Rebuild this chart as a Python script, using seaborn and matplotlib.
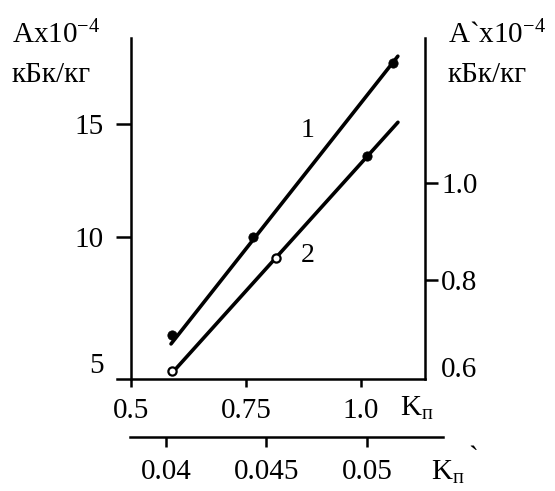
import numpy as np
import pandas as pd
import seaborn as sns
import matplotlib.pyplot as plt
from matplotlib import transforms

# curve 1: A vs Kп (left / lower axes)
kp1 = [0.59, 0.765, 1.07]
a1 = [5.66, 10.0, 17.7]
kp1_line = [0.587, 1.08]
a1_line = [5.27, 18.0]

# curve 2: A` vs Kп` (right / second lower axes)
kp2 = [0.0403, 0.04547, 0.05]
a2 = [0.612, 0.845, 1.056]
kp2_filled = [False, False, True]
kp2_line = [0.04025, 0.05154]
a2_line = [0.606, 1.126]

x1_ticks = [0.5, 0.75, 1.0]
x1_labels = ["0.5", "0.75", "1.0"]
y1_ticks = [5, 10, 15]
x2_ticks = [0.04, 0.045, 0.05]
x2_labels = ["0.04", "0.045", "0.05"]
y2_ticks = [0.6, 0.8, 1.0]
y2_labels = ["0.6", "0.8", "1.0"]

sns.set_style("ticks", {'axes.edgecolor': 'black', 'text.color': 'black',
                        'xtick.color': 'black', 'ytick.color': 'black'})
plt.rcParams['font.family'] = ['Liberation Serif', 'DejaVu Serif']
plt.rcParams['mathtext.fontset'] = 'custom'
plt.rcParams['mathtext.rm'] = 'Liberation Serif'
plt.rcParams['mathtext.it'] = 'Liberation Serif'

W, H = 555, 491
fig = plt.figure(figsize=(W / 100, H / 100), dpi=100)
rect = [131 / W, 1 - 379 / H, (425 - 131) / W, (379 - 38) / H]
ax = fig.add_axes(rect)
ax2 = fig.add_axes(rect)
ax2.patch.set_visible(False)

fs = 21
lw_ax = 1.8

# curve 1
sns.lineplot(x=kp1_line, y=a1_line, ax=ax, color='black', lw=2.6)
sns.scatterplot(x=kp1, y=a1, ax=ax, color='black', s=45, edgecolor='black', zorder=5)
ax.set_xlim(0.5, 1.139)
ax.set_ylim(3.717, 18.805)

# curve 2
df2 = pd.DataFrame({'kp': kp2, 'a': a2, 'filled': kp2_filled})
sns.lineplot(x=kp2_line, y=a2_line, ax=ax2, color='black', lw=2.6)
sns.scatterplot(data=df2[df2.filled], x='kp', y='a', ax=ax2, color='black',
                s=45, edgecolor='black', zorder=5)
sns.scatterplot(data=df2[~df2.filled], x='kp', y='a', ax=ax2, color='white',
                s=35, edgecolor='black', linewidth=1.6, zorder=5)
ax2.set_xlim(0.038259, 0.052886)
ax2.set_ylim(0.596, 1.30)

for a in (ax, ax2):
    a.set_xlabel('')
    a.set_ylabel('')
    for s in a.spines.values():
        s.set_linewidth(lw_ax)
        s.set_color('black')

ax.spines['top'].set_visible(False)
ax.spines['right'].set_visible(False)
ax.spines['bottom'].set_bounds(0.4696, 1.139)
ax.set_xticks(x1_ticks, x1_labels)
ax.set_yticks(y1_ticks, [str(v) for v in y1_ticks])
ax.tick_params(axis='x', length=6, width=lw_ax, pad=8, labelsize=fs, colors='black')
ax.tick_params(axis='y', length=10.5, width=lw_ax, pad=9, labelsize=fs, colors='black')

ax2.spines['top'].set_visible(False)
ax2.spines['left'].set_visible(False)
ax2.spines['bottom'].set_position(('outward', 41.8))
ax2.spines['bottom'].set_bounds(0.03821, 0.05378)
ax2.yaxis.set_ticks_position('right')
ax2.xaxis.set_ticks_position('bottom')
ax2.set_xticks(x2_ticks, x2_labels)
ax2.set_yticks(y2_ticks, y2_labels)
ax2.tick_params(axis='x', length=7, width=lw_ax, pad=9, labelsize=fs, colors='black')
ax2.tick_params(axis='y', length=9.5, width=lw_ax, pad=2, labelsize=fs, colors='black')

# end labels without tick marks, nudged like the original
t5 = ax.yaxis.get_major_ticks()[0]
t5.tick1line.set_visible(False)
t5.label1.set_transform(t5.label1.get_transform() +
                        transforms.ScaledTranslation(0, -13 / 100, fig.dpi_scale_trans))
t06 = ax2.yaxis.get_major_ticks()[0]
t06.tick2line.set_visible(False)
t06.label2.set_transform(t06.label2.get_transform() +
                         transforms.ScaledTranslation(0, 10 / 100, fig.dpi_scale_trans))

# curve numbers
ax.text(0.883, 14.73, "1", fontsize=20, ha='center', va='center')
ax.text(0.885, 9.20, "2", fontsize=20, ha='center', va='center')

def fx(px):
    return px / W

def fy(py):
    return 1 - py / H

fig.text(fx(12), fy(43), r"Ax10$^{-4}$", fontsize=fs, ha='left', va='baseline')
fig.text(fx(12), fy(82), "кБк/кг", fontsize=fs, ha='left', va='baseline')
fig.text(fx(448), fy(43), r"A`x10$^{-4}$", fontsize=fs, ha='left', va='baseline')
fig.text(fx(448), fy(82), "кБк/кг", fontsize=fs, ha='left', va='baseline')

fig.text(fx(400), fy(416), r"K$_{\mathrm{п}}$", fontsize=fs, ha='left', va='baseline')
fig.text(fx(431), fy(480), r"K$_{\mathrm{п}}$", fontsize=fs, ha='left', va='baseline')
fig.text(fx(468), fy(466), "`", fontsize=fs, ha='left', va='baseline')

fig.savefig("out.png", dpi=100)
